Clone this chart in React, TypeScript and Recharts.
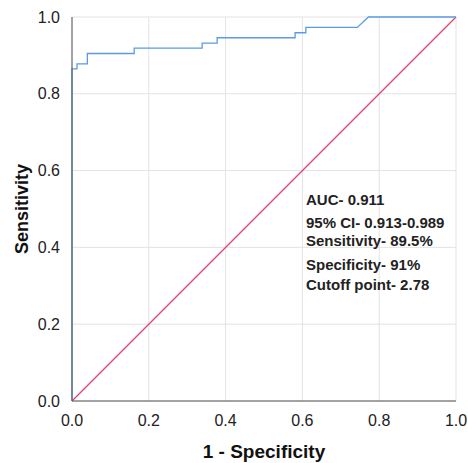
import React from 'react';
import { LineChart, Line, XAxis, YAxis, CartesianGrid, Customized } from 'recharts';

// ROC curve points (1 - specificity, sensitivity)
const fpr = [0, 0, 0.013, 0.013, 0.04, 0.04, 0.162, 0.162, 0.339, 0.339, 0.378, 0.378, 0.581, 0.581, 0.609, 0.609, 0.743, 0.772, 1.0];
const tpr = [0, 0.865, 0.865, 0.878, 0.878, 0.905, 0.905, 0.919, 0.919, 0.932, 0.932, 0.946, 0.946, 0.959, 0.959, 0.973, 0.973, 1.0, 1.0];

// reference (chance) line
const refX = [0, 1];
const refY = [0, 1];

const ticks = [0, 0.2, 0.4, 0.6, 0.8, 1.0];

const notes = [
  'AUC- 0.911',
  '95% CI- 0.913-0.989',
  'Sensitivity- 89.5%',
  'Specificity- 91%',
  'Cutoff point- 2.78',
];
const noteY = [205, 228, 246, 270, 290];

const rocData = fpr.map((x, i) => ({ x, y: tpr[i] }));
const refData = refX.map((x, i) => ({ x, y: refY[i] }));

const FONT = '"Liberation Sans", Arial, sans-serif';

const Notes = () => (
  <g>
    {notes.map((t, i) => (
      <text key={t} x={306} y={noteY[i]} fontFamily={FONT} fontSize={15} fontWeight="bold" fill="#222">
        {t}
      </text>
    ))}
  </g>
);

const App: React.FC = () => {
  return (
    <div style={{ position: 'absolute', left: 0, top: 0, width: 468, height: 463, background: '#fff' }}>
      <LineChart width={468} height={463} margin={{ top: 17, right: 12, left: 0, bottom: 0 }}>
        <CartesianGrid stroke="#e3e3e3" strokeWidth={1} />
        <XAxis
          type="number"
          dataKey="x"
          domain={[0, 1]}
          ticks={ticks}
          tickFormatter={(v: number) => v.toFixed(1)}
          tickLine={false}
          axisLine={{ stroke: '#555' }}
          tick={{ fontSize: 16, fill: '#222', fontFamily: FONT }}
          tickMargin={8}
          height={62}
          label={{ value: '1 - Specificity', position: 'insideBottom', offset: 5, style: { fontSize: 19, fontWeight: 'bold', fill: '#111', fontFamily: FONT } }}
        />
        <YAxis
          type="number"
          dataKey="y"
          domain={[0, 1]}
          ticks={ticks}
          tickFormatter={(v: number) => v.toFixed(1)}
          tickLine={false}
          axisLine={{ stroke: '#555' }}
          tick={{ fontSize: 16, fill: '#222', fontFamily: FONT }}
          tickMargin={6}
          width={72}
          label={{ value: 'Sensitivity', angle: -90, position: 'insideLeft', offset: 22, style: { fontSize: 18, fontWeight: 'bold', fill: '#111', fontFamily: FONT, textAnchor: 'middle' } }}
        />
        <Line data={refData} dataKey="y" type="linear" stroke="#e8416b" strokeWidth={1.2} dot={false} isAnimationActive={false} />
        <Line data={rocData} dataKey="y" type="linear" stroke="#5b9be6" strokeWidth={1.3} dot={false} isAnimationActive={false} />
        <Customized component={Notes} />
      </LineChart>
    </div>
  );
};

export default App;
